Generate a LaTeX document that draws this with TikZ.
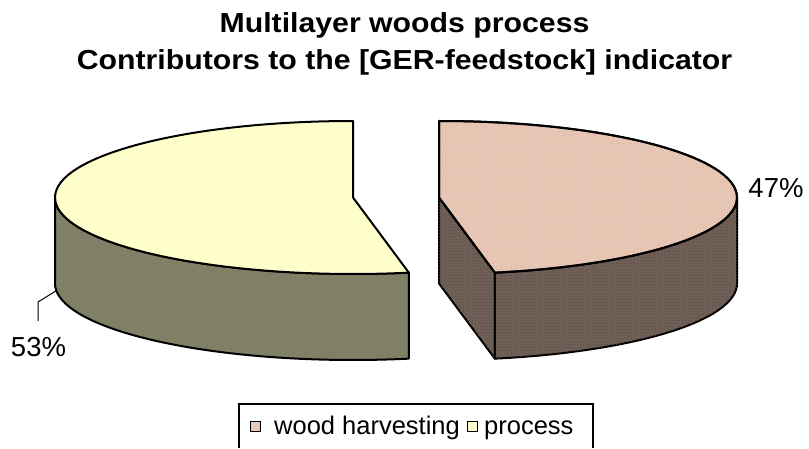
\documentclass[tikz,border=0pt]{standalone}
\usepackage{fontspec}
\setmainfont{Liberation Sans}
\usetikzlibrary{patterns}
\definecolor{procTop}{HTML}{FFFFCC}
\definecolor{procSide}{HTML}{808066}
\definecolor{woodTop}{HTML}{E8C8B8}
\definecolor{woodSide}{HTML}{736259}
\tikzset{
  pieedge/.style={draw=black, line width=2pt, line join=round},
  woodgrain/.style={pattern=crosshatch dots, pattern color=#1},
  titletext/.style={font=\bfseries\fontsize{27.5}{31}\selectfont, anchor=base, inner sep=0pt, xscale=1.1},
  pcttext/.style={font=\fontsize{27.5}{30}\selectfont, anchor=base, inner sep=0pt},
  legendtext/.style={font=\fontsize{25.5}{28}\selectfont, anchor=base west, inner sep=0pt},
  legendbox/.style={draw=black, line width=1.3pt},
  keymark/.style={draw=black, line width=1pt, minimum size=10pt, inner sep=0pt, outer sep=0pt},
  leader/.style={draw=black, line width=1pt}
}
\begin{document}
\begin{tikzpicture}[x=1pt,y=1pt]
\useasboundingbox (0,0) rectangle (809,448);

% title
\node[titletext] (title1) at (404.5,415) {Multilayer woods process};
\node[titletext] (title2) at (404.5,378) {Contributors to the [GER-feedstock] indicator};

% pie centres (the two slices are pulled apart)
\coordinate (L) at (353,250.5);
\coordinate (R) at (439,250.5);

% process slice (53%): outer wall, then top
\filldraw[pieedge, fill=procSide]
  ([shift={(180:298 and 76.5)}]L)
  arc[start angle=180, end angle=280.8, x radius=298, y radius=76.5]
  -- ++(0,-86)
  arc[start angle=280.8, end angle=180, x radius=298, y radius=76.5]
  -- cycle;
\filldraw[pieedge, fill=procTop]
  (L) -- ([shift={(90:298 and 76.5)}]L)
  arc[start angle=90, end angle=280.8, x radius=298, y radius=76.5]
  -- cycle;

% wood harvesting slice (47%): cut face, outer wall, then top
\filldraw[pieedge, fill=woodSide, postaction={woodgrain=woodSide!70!black}]
  (R) -- ([shift={(-79.2:298 and 76.5)}]R) -- ++(0,-86)
  -- ([yshift=-86pt]R) -- cycle;
\filldraw[pieedge, fill=woodSide, postaction={woodgrain=woodSide!70!black}]
  ([shift={(0:298 and 76.5)}]R)
  arc[start angle=0, end angle=-79.2, x radius=298, y radius=76.5]
  -- ++(0,-86)
  arc[start angle=-79.2, end angle=0, x radius=298, y radius=76.5]
  -- cycle;
\filldraw[pieedge, fill=woodTop, postaction={woodgrain=woodTop!75!brown}]
  (R) -- ([shift={(90:298 and 76.5)}]R)
  arc[start angle=90, end angle=-79.2, x radius=298, y radius=76.5]
  -- cycle;
% redraw outlines over the grain
\draw[pieedge]
  (R) -- ([shift={(90:298 and 76.5)}]R)
  arc[start angle=90, end angle=-79.2, x radius=298, y radius=76.5]
  -- cycle;

% data labels
\coordinate (lead) at (56.3,157.3);
\coordinate (bend) at (38,146);
\coordinate (leadEnd) at (38,127);
\draw[leader] (lead) -- (bend) -- (leadEnd);
\node[pcttext] (p53) at (38.5,92) {53\%};
\node[pcttext] (p47) at (776,251) {47\%};

% legend
\draw[legendbox] (239,0) -- (239,44) -- (593,44) -- (593,0);
\node[keymark, fill=woodTop] (kw) at (255,22) {};
\node[legendtext] (lw) at (274,14) {wood harvesting};
\node[keymark, fill=procTop] (kp) at (472,22) {};
\node[legendtext] (lp) at (484,14) {process};
\end{tikzpicture}
\end{document}
